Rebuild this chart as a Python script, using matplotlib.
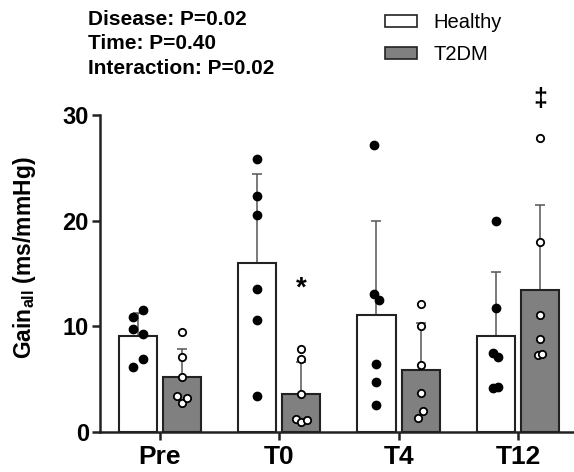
import numpy as np
import matplotlib.pyplot as plt
from matplotlib.patches import Patch

plt.rcParams['font.family'] = ['Liberation Sans', 'DejaVu Sans']
plt.rcParams['mathtext.fontset'] = 'custom'
plt.rcParams['mathtext.bf'] = 'Liberation Sans:bold'
plt.rcParams['mathtext.rm'] = 'Liberation Sans:bold'

# Datos
categorias = ['Pre', 'T0', 'T4', 'T12']
media_healthy = [9.1, 16.0, 11.1, 9.1]
sd_healthy = [2.2, 8.4, 8.9, 6.0]
media_t2dm = [5.2, 3.6, 5.9, 13.4]
sd_t2dm = [2.65, 3.0, 4.4, 8.1]

puntos_healthy = [
    [10.9, 11.6, 9.8, 9.3, 6.9, 6.2],
    [25.8, 22.3, 20.5, 13.5, 10.6, 3.4],
    [27.1, 13.1, 12.5, 6.5, 4.8, 2.6],
    [20.0, 11.7, 7.5, 7.1, 4.15, 4.3],
]
puntos_t2dm = [
    [9.45, 7.1, 5.2, 3.4, 2.8, 3.2],
    [7.9, 6.9, 3.6, 1.3, 0.95, 1.2],
    [12.1, 10.0, 6.35, 3.7, 2.0, 1.4],
    [27.8, 18.0, 11.1, 8.8, 7.3, 7.4],
]
# desplazamiento horizontal de cada punto (jitter)
jit_healthy = [
    [-0.04, 0.045, -0.04, 0.04, 0.04, -0.04],
    [0, 0, 0, 0, 0, 0],
    [-0.02, -0.02, 0.02, 0, 0, 0],
    [0, 0, -0.02, 0.02, -0.02, 0.02],
]
jit_t2dm = [
    [0, 0, 0, -0.04, 0, 0.04],
    [0, 0, 0, -0.045, 0, 0.045],
    [0, 0, 0, 0, 0.02, -0.02],
    [0, 0, 0, 0, -0.02, 0.02],
]

x = np.arange(len(categorias))
w = 0.32
off = 0.185

fig = plt.figure(figsize=(5.74, 4.72), dpi=100, facecolor='w')
ax = fig.add_axes([0.174, 0.084, 0.826, 0.673])

ax.bar(x - off, media_healthy, w, color='white', edgecolor='#222222', lw=1.5, zorder=2)
ax.bar(x + off, media_t2dm, w, color='#808080', edgecolor='#222222', lw=1.5, zorder=2)

ax.errorbar(x - off, media_healthy, yerr=[np.zeros(4), sd_healthy], fmt='none',
            ecolor='#555555', elinewidth=1.1, capsize=3.5, capthick=1.1, zorder=1)
ax.errorbar(x + off, media_t2dm, yerr=[np.zeros(4), sd_t2dm], fmt='none',
            ecolor='#555555', elinewidth=1.1, capsize=3.5, capthick=1.1, zorder=1)

for i in range(len(categorias)):
    ax.scatter(x[i] - off + np.array(jit_healthy[i]), puntos_healthy[i], s=36,
               color='black', zorder=4)
    ax.scatter(x[i] + off + np.array(jit_t2dm[i]), puntos_t2dm[i], s=28,
               facecolor='white', edgecolor='black', lw=1.3, zorder=4)

# marcas de significancia
ax.text(x[1] + off, media_t2dm[1] + 10.0, '*', ha='center', va='center',
        fontsize=20, fontweight='bold')
ax.text(x[3] + off, 31.5, '\u2021', ha='center', va='center', fontsize=18,
        fontweight='bold', clip_on=False)

ax.set_xlim(-0.503, 3.47)
ax.set_ylim(0, 30)
ax.set_yticks([0, 10, 20, 30])
ax.set_xticks(x)
ax.set_xticklabels(categorias, fontsize=19, fontweight='bold')
ax.tick_params(axis='y', labelsize=17, width=1.8, length=6, color='#222222', pad=2)
ax.tick_params(axis='x', width=1.8, length=6, color='#222222', pad=3)
for lab in ax.get_yticklabels():
    lab.set_fontweight('bold')
ax.set_ylabel(r'Gain$_{\mathbf{all}}$ (ms/mmHg)', fontsize=16.5, fontweight='bold')
ax.yaxis.set_label_coords(-0.131, 0.55)

for spine in ('top', 'right'):
    ax.spines[spine].set_visible(False)
for spine in ('left', 'bottom'):
    ax.spines[spine].set_linewidth(1.8)
    ax.spines[spine].set_color('#222222')

fig.text(0.153, 0.958, 'Disease: P=0.02', fontsize=15, fontweight='bold', va='center')
fig.text(0.153, 0.907, 'Time: P=0.40', fontsize=15, fontweight='bold', va='center')
fig.text(0.153, 0.855, 'Interaction: P=0.02', fontsize=15, fontweight='bold', va='center')

# leyenda
handles = [Patch(facecolor='white', edgecolor='#222222', lw=1.2, label='Healthy'),
           Patch(facecolor='#808080', edgecolor='#222222', lw=1.2, label='T2DM')]
fig.legend(handles=handles, loc='upper left', bbox_to_anchor=(0.671, 0.972),
           frameon=False, fontsize=14.5, handlelength=1.6, handleheight=0.5,
           handletextpad=0.8, labelspacing=0.65, borderpad=0, borderaxespad=0)

fig.savefig('out.png', dpi=100)
